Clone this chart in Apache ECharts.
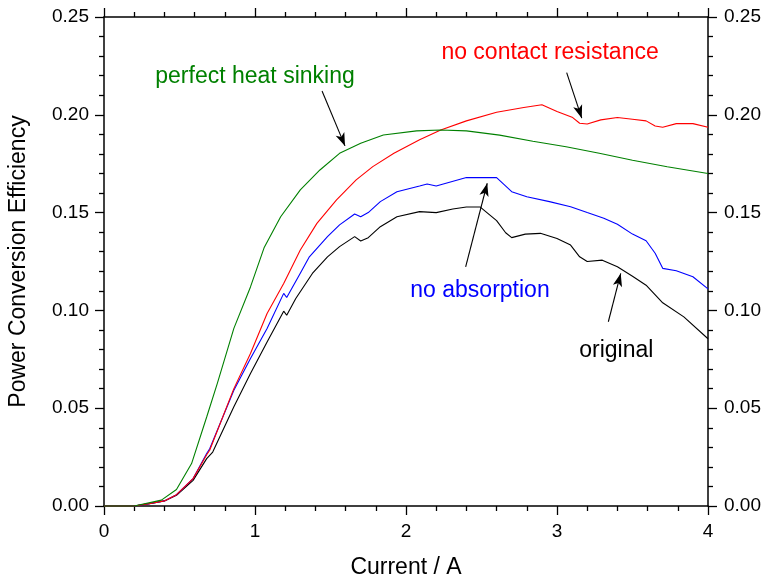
<!DOCTYPE html>
<html>
<head>
<meta charset="utf-8">
<script src="https://cdn.jsdelivr.net/npm/echarts@6/dist/echarts.min.js"></script>
<style>
  html, body { margin: 0; padding: 0; background: #fff; }
  #chart { width: 766px; height: 580px; }
</style>
</head>
<body>
<div id="chart"></div>
<script>
// Power conversion efficiency vs. drive current for four device variants.
const originalX = [0, 0.2, 0.3, 0.4, 0.48, 0.59, 0.68, 0.72, 0.86, 0.97, 1.08, 1.19, 1.21, 1.27, 1.38, 1.48, 1.56, 1.66, 1.70, 1.75, 1.83, 1.94, 2.09, 2.2, 2.31, 2.40, 2.49, 2.60, 2.66, 2.70, 2.79, 2.89, 3.0, 3.09, 3.15, 3.2, 3.3, 3.4, 3.5, 3.59, 3.7, 3.84, 4.0];
const originalY = [0, 0, 0.0012, 0.0026, 0.0055, 0.0131, 0.0242, 0.0276, 0.0507, 0.0677, 0.0839, 0.0996, 0.0975, 0.1061, 0.1189, 0.1274, 0.1326, 0.1377, 0.1355, 0.1372, 0.1428, 0.1479, 0.1505, 0.1500, 0.1518, 0.1529, 0.1529, 0.1459, 0.1397, 0.1372, 0.1390, 0.1394, 0.1368, 0.1334, 0.1274, 0.1250, 0.1257, 0.1223, 0.1175, 0.1129, 0.1039, 0.0967, 0.0855];

const noAbsorptionX = [0, 0.2, 0.3, 0.4, 0.48, 0.59, 0.68, 0.70, 0.86, 0.97, 1.08, 1.19, 1.21, 1.30, 1.36, 1.48, 1.56, 1.66, 1.70, 1.75, 1.83, 1.94, 2.09, 2.14, 2.2, 2.40, 2.60, 2.70, 2.80, 2.95, 3.09, 3.2, 3.31, 3.4, 3.5, 3.59, 3.65, 3.7, 3.79, 3.9, 4.0];
const noAbsorptionY = [0, 0, 0.0012, 0.0026, 0.0058, 0.0140, 0.0268, 0.0293, 0.0592, 0.0754, 0.0908, 0.1087, 0.1066, 0.1190, 0.1274, 0.1377, 0.1437, 0.1493, 0.1479, 0.1500, 0.1556, 0.1607, 0.1636, 0.1646, 0.1636, 0.1679, 0.1679, 0.1607, 0.1581, 0.1556, 0.1530, 0.1500, 0.1471, 0.1440, 0.1390, 0.1356, 0.1292, 0.1215, 0.1203, 0.1172, 0.1110];

const noContactX = [0, 0.2, 0.3, 0.4, 0.48, 0.59, 0.68, 0.70, 0.86, 0.97, 1.08, 1.19, 1.30, 1.41, 1.54, 1.67, 1.78, 1.92, 2.09, 2.23, 2.40, 2.60, 2.78, 2.90, 3.0, 3.10, 3.15, 3.2, 3.29, 3.4, 3.5, 3.59, 3.65, 3.7, 3.79, 3.9, 4.0];
const noContactY = [0, 0, 0.0012, 0.0026, 0.0058, 0.0140, 0.0262, 0.0285, 0.0600, 0.0780, 0.0984, 0.1138, 0.1309, 0.1445, 0.1565, 0.1667, 0.1735, 0.1803, 0.1873, 0.1922, 0.1969, 0.2013, 0.2037, 0.2051, 0.2017, 0.1988, 0.1957, 0.1953, 0.1974, 0.1986, 0.1977, 0.1969, 0.1943, 0.1936, 0.1955, 0.1955, 0.1936];

const heatSinkX = [0, 0.2, 0.38, 0.48, 0.58, 0.68, 0.75, 0.86, 0.97, 1.06, 1.17, 1.30, 1.43, 1.56, 1.70, 1.85, 2.07, 2.23, 2.40, 2.62, 2.84, 3.06, 3.28, 3.50, 3.73, 4.0];
const heatSinkY = [0, 0, 0.0030, 0.0084, 0.0217, 0.0455, 0.0626, 0.0908, 0.1120, 0.1320, 0.1479, 0.1616, 0.1718, 0.1803, 0.1855, 0.1897, 0.1918, 0.1922, 0.1918, 0.1896, 0.1865, 0.1837, 0.1803, 0.1768, 0.1734, 0.1700];

const xTicks = [0, 1, 2, 3, 4];
const yTicks = [0.00, 0.05, 0.10, 0.15, 0.20, 0.25];

// Curve labels: text, centre position in data units, colour
const labelText = ['perfect heat sinking', 'no contact resistance', 'no absorption', 'original'];
const labelPos = [[1.0, 0.2195], [2.954, 0.2317], [2.49, 0.1102], [3.393, 0.0795]];
const labelColor = ['#008000', '#ff0000', '#0000ff', '#000000'];

// Pointer arrows: from -> to, in data units
const arrowFrom = [[1.444, 0.2122], [3.064, 0.2216], [2.395, 0.1223], [3.340, 0.0942]];
const arrowTo = [[1.596, 0.1841], [3.164, 0.1983], [2.538, 0.1650], [3.422, 0.1189]];

const FONT = 'Liberation Sans, Arial, sans-serif';

function pairs(xs, ys) { return xs.map((x, i) => [x, ys[i]]); }

const chart = echarts.init(document.getElementById('chart'), null, { renderer: 'canvas' });

const axisLine = { show: true, onZero: false, lineStyle: { color: '#000', width: 1.5 } };
const majorTick = { show: true, inside: false, length: 9, lineStyle: { color: '#000', width: 1.3 } };
const minorTick = { show: true, splitNumber: 5, length: 5, lineStyle: { color: '#000', width: 1.3 } };
const tickFont = { fontFamily: FONT, fontSize: 19, color: '#000' };

function lineSeries(name, xs, ys, color) {
  return {
    name, type: 'line', xAxisIndex: 0, yAxisIndex: 0,
    data: pairs(xs, ys), showSymbol: false, symbol: 'none', clip: false,
    lineStyle: { color, width: 1.1 }, itemStyle: { color },
    animation: false, z: 3
  };
}

const series = [
  lineSeries('original', originalX, originalY, '#000000'),
  lineSeries('no absorption', noAbsorptionX, noAbsorptionY, '#0000ff'),
  lineSeries('no contact resistance', noContactX, noContactY, '#ff0000'),
  lineSeries('perfect heat sinking', heatSinkX, heatSinkY, '#008000')
];

// Annotation carrier: curve labels and their pointer arrows
series.push({
  type: 'line', data: [], xAxisIndex: 0, yAxisIndex: 0, animation: false,
  markPoint: {
    silent: true, animation: false,
    symbol: 'rect', symbolSize: 1, itemStyle: { color: 'rgba(0,0,0,0)' },
    data: labelText.map((t, i) => ({
      coord: labelPos[i], value: t,
      label: { show: true, position: 'inside', formatter: t, color: labelColor[i], fontFamily: FONT, fontSize: 23 }
    }))
  },
  markLine: {
    silent: true, animation: false,
    symbol: ['none', 'arrow'], symbolSize: [7, 13],
    label: { show: false },
    lineStyle: { color: '#000', width: 1.1, type: 'solid' },
    emphasis: { disabled: true },
    data: arrowFrom.map((f, i) => [{ coord: f }, { coord: arrowTo[i] }])
  }
});

chart.setOption({
  backgroundColor: '#fff',
  animation: false,
  grid: { left: 104, right: 58, top: 17, bottom: 74, containLabel: false, outerBoundsMode: 'none' },
  xAxis: [
    {
      type: 'value', position: 'bottom', min: xTicks[0], max: xTicks[xTicks.length - 1], interval: 1,
      name: 'Current / A', nameLocation: 'middle', nameGap: 50,
      nameTextStyle: { fontFamily: FONT, fontSize: 23, color: '#000' },
      axisLine, axisTick: majorTick, minorTick,
      axisLabel: Object.assign({ margin: 16, formatter: v => String(v) }, tickFont),
      splitLine: { show: false }
    },
    {
      type: 'value', position: 'top', min: xTicks[0], max: xTicks[xTicks.length - 1], interval: 1,
      axisLine, axisTick: majorTick, minorTick,
      axisLabel: { show: false }, splitLine: { show: false }
    }
  ],
  yAxis: [
    {
      type: 'value', position: 'left', min: yTicks[0], max: yTicks[yTicks.length - 1], interval: 0.05,
      name: 'Power Conversion Efficiency', nameLocation: 'middle', nameGap: 74, nameRotate: 90,
      nameTextStyle: { fontFamily: FONT, fontSize: 23, color: '#000' },
      axisLine, axisTick: majorTick, minorTick,
      axisLabel: Object.assign({ margin: 15, formatter: v => v.toFixed(2) }, tickFont),
      splitLine: { show: false }
    },
    {
      type: 'value', position: 'right', min: yTicks[0], max: yTicks[yTicks.length - 1], interval: 0.05,
      axisLine, axisTick: majorTick, minorTick,
      axisLabel: Object.assign({ margin: 16, formatter: v => v.toFixed(2) }, tickFont),
      splitLine: { show: false }
    }
  ],
  series
});
</script>
</body>
</html>
